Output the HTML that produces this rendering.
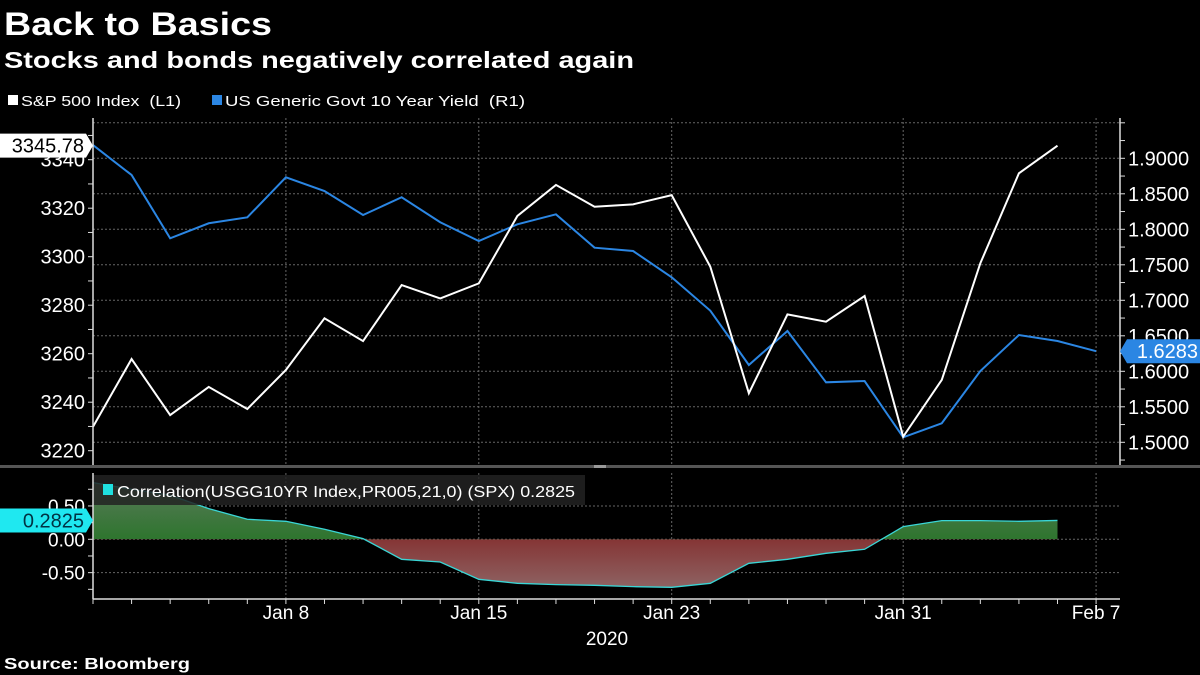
<!DOCTYPE html>
<html><head><meta charset="utf-8"><style>
html,body{margin:0;padding:0;background:#000;}
svg{display:block;font-family:"Liberation Sans",sans-serif;}
</style></head><body>
<svg id="c" width="1200" height="675" viewBox="0 0 1200 675">
<text x="4" y="35" fill="#fff" font-size="32" font-weight="bold" textLength="268" lengthAdjust="spacingAndGlyphs">Back to Basics</text>
<text x="4" y="68" fill="#fff" font-size="23" font-weight="bold" textLength="630" lengthAdjust="spacingAndGlyphs">Stocks and bonds negatively correlated again</text>
<g>
<rect x="8" y="95" width="10" height="10" fill="#fff"/>
<text x="21" y="106" fill="#fff" font-size="15" textLength="160" lengthAdjust="spacingAndGlyphs">S&amp;P 500 Index&#160;&#160;(L1)</text>
<rect x="212" y="95" width="10" height="10" fill="#2b86e3"/>
<text x="225" y="106" fill="#fff" font-size="15" textLength="300" lengthAdjust="spacingAndGlyphs">US Generic Govt 10 Year Yield&#160;&#160;(R1)</text>
</g>
<g id="grid"></g>
<g id="lower"></g>
<g id="lines"></g>
<g id="axes"></g>
<rect x="0" y="465" width="1200" height="3" fill="#555"/>
<rect x="594" y="465" width="12" height="3" fill="#999"/>
<text x="4" y="669" fill="#fff" font-size="16" font-weight="bold" textLength="186" lengthAdjust="spacingAndGlyphs">Source: Bloomberg</text>
</svg>
<script>
const dates=["Dec31","Jan2","Jan3","Jan6","Jan7","Jan8","Jan9","Jan10","Jan13","Jan14","Jan15","Jan16","Jan17","Jan21","Jan22","Jan23","Jan24","Jan27","Jan28","Jan29","Jan30","Jan31","Feb3","Feb4","Feb5","Feb6","Feb7"];
const spx=[3229.9,3257.8,3234.7,3246.3,3237.2,3253.3,3274.6,3265.2,3288.3,3282.8,3289.0,3316.8,3329.6,3320.6,3321.6,3325.4,3295.9,3243.7,3276.2,3273.2,3283.8,3225.8,3249.2,3297.3,3334.4,3345.78];
const yld=[1.9187,1.8765,1.7873,1.8085,1.8169,1.8732,1.8539,1.8201,1.8451,1.8099,1.7835,1.8070,1.8211,1.7741,1.7694,1.7324,1.6854,1.6089,1.6568,1.5845,1.5863,1.5070,1.5268,1.6004,1.6511,1.6427,1.6283];
const corr=[0.85,0.75,0.66,0.46,0.30,0.27,0.15,0.01,-0.30,-0.34,-0.60,-0.66,-0.68,-0.69,-0.71,-0.72,-0.66,-0.36,-0.30,-0.21,-0.15,0.19,0.28,0.28,0.27,0.2825];
const leftTicks=[3220,3240,3260,3280,3300,3320,3340];
const rightTicks=[1.50,1.55,1.60,1.65,1.70,1.75,1.80,1.85,1.90];
const corrTicks=[-0.5,0,0.5];
const xLabels=[["Jan 8",5],["Jan 15",10],["Jan 23",15],["Jan 31",21],["Feb 7",26]];

const NS="http://www.w3.org/2000/svg";
const X=i=>93+i*38.58;
const YL=v=>450.7-(v-3220)*2.425;
const YR=r=>442.3-(r-1.5)*710;
const YC=c=>539.3-c*66.7;
function mk(p,t,a){const e=document.createElementNS(NS,t);for(const k in a)e.setAttribute(k,a[k]);p.appendChild(e);return e;}
const grid=document.getElementById('grid'),axes=document.getElementById('axes'),lines=document.getElementById('lines'),lower=document.getElementById('lower');

for(let r=1.5;r<=1.951;r+=0.05){const g=mk(grid,'line',{x1:93,x2:1120,y1:YR(r),y2:YR(r),stroke:'#666','stroke-dasharray':'2,2','stroke-width':1});

}
corrTicks.forEach(c=>{const g=mk(grid,'line',{x1:93,x2:1120,y1:YC(c),y2:YC(c),stroke:'#666','stroke-dasharray':'2,2'});

});
xLabels.forEach(([l,i])=>{[[118,465],[473,599]].forEach(([a,b])=>{const g=mk(grid,'line',{x1:X(i),x2:X(i),y1:a,y2:b,stroke:'#666','stroke-dasharray':'2,2'});

});});

const defs=mk(document.getElementById('c'),'defs',{});
const gg=mk(defs,'linearGradient',{id:'gg',x1:0,y1:0,x2:0,y2:1});
mk(gg,'stop',{offset:'0','stop-color':'#5a7a5a'});mk(gg,'stop',{offset:'1','stop-color':'#087008'});
const gr=mk(defs,'linearGradient',{id:'gr',x1:0,y1:0,x2:0,y2:1});
mk(gr,'stop',{offset:'0','stop-color':'#7a0000'});mk(gr,'stop',{offset:'1','stop-color':'#8e6262'});
const cpu=mk(defs,'clipPath',{id:'cpUp'});mk(cpu,'rect',{x:0,y:0,width:1200,height:YC(0)});
const cpd=mk(defs,'clipPath',{id:'cpDn'});mk(cpd,'rect',{x:0,y:YC(0),width:1200,height:200});
let area='M'+X(0)+','+YC(0);corr.forEach((c,i)=>area+=' L'+X(i)+','+YC(c));area+=' L'+X(corr.length-1)+','+YC(0)+'Z';
const aUp=mk(lower,'path',{d:area,fill:'url(#gg)','clip-path':'url(#cpUp)'});


const aDn=mk(lower,'path',{d:area,fill:'url(#gr)','clip-path':'url(#cpDn)'});


const cl=mk(lower,'polyline',{points:corr.map((c,i)=>X(i)+','+YC(c)).join(' '),fill:'none',stroke:'#3ad6d6','stroke-width':1.3});


const lb=mk(lower,'rect',{x:93,y:475,width:492,height:30,fill:'#222','fill-opacity':0.85});


const ls=mk(lower,'rect',{x:103,y:484,width:10,height:11,fill:'#1fe0e0'});


const lt=mk(lower,'text',{x:117,y:497,fill:'#fff','font-size':16,textLength:458,lengthAdjust:'spacingAndGlyphs'});lt.textContent='Correlation(USGG10YR Index,PR005,21,0) (SPX) 0.2825';



const ly=mk(lines,'polyline',{points:yld.map((r,i)=>X(i)+','+YR(r)).join(' '),fill:'none',stroke:'#2b86e3','stroke-width':2});


const lsx=mk(lines,'polyline',{points:spx.map((v,i)=>X(i)+','+YL(v)).join(' '),fill:'none',stroke:'#fff','stroke-width':2});



[[93,118,465],[1120,118,465],[93,473,599]].forEach(([x,a,b])=>{const l=mk(axes,'line',{x1:x,x2:x,y1:a,y2:b,stroke:'#ddd','stroke-width':1.5});

});
const xb=mk(axes,'line',{x1:93,x2:1120,y1:599,y2:599,stroke:'#ddd','stroke-width':1.5});


for(let v=3220;v<=3350;v+=10){const t=mk(axes,'line',{x1:88,x2:93,y1:YL(v),y2:YL(v),stroke:'#ddd'});

}
leftTicks.forEach(v=>{const t=mk(axes,'text',{x:85,y:YL(v)+7,fill:'#fff','font-size':20,'text-anchor':'end'});t.textContent=v;

});
for(let r=1.475;r<=1.96;r+=0.025){const t=mk(axes,'line',{x1:1120,x2:1125,y1:YR(r),y2:YR(r),stroke:'#ddd'});

}
rightTicks.forEach(r=>{const t=mk(axes,'text',{x:1128,y:YR(r)+7,fill:'#fff','font-size':20});t.textContent=r.toFixed(4);

});
for(let c=-0.75;c<=0.8;c+=0.25){const t=mk(axes,'line',{x1:88,x2:93,y1:YC(c),y2:YC(c),stroke:'#ddd'});

}
corrTicks.forEach(c=>{const t=mk(axes,'text',{x:85,y:YC(c)+7,fill:'#fff','font-size':19,'text-anchor':'end'});t.textContent=c.toFixed(2);

});
dates.forEach((d,i)=>{const t=mk(axes,'line',{x1:X(i),x2:X(i),y1:599,y2:604,stroke:'#ddd'});

});
xLabels.forEach(([l,i])=>{const t=mk(axes,'text',{x:X(i),y:619,fill:'#fff','font-size':19,'text-anchor':'middle'});t.textContent=l;

});
const yr=mk(axes,'text',{x:607,y:645,fill:'#fff','font-size':19,'text-anchor':'middle'});yr.textContent='2020';



function tag(x,y,w,left,bg,fg,txt,name){const g=mk(axes,'g',{});


const d=left?`M${x},${y-12} L${x+w},${y-12} L${x+w+7},${y} L${x+w},${y+12} L${x},${y+12}Z`:`M${x},${y} L${x+7},${y-12} L${x+w},${y-12} L${x+w},${y+12} L${x+7},${y+12}Z`;
mk(g,'path',{d:d,fill:bg});const t=mk(g,'text',{x:x+w-2,y:y+7,fill:fg,'font-size':20,'text-anchor':'end'});t.textContent=txt;}
tag(0,YL(spx[spx.length-1]),86,true,'#fff','#000',spx[spx.length-1].toFixed(2),'spx-last-value-tag');
tag(1120,YR(yld[yld.length-1]),80,false,'#2b86e3','#fff',yld[yld.length-1].toFixed(4),'yield-last-value-tag');
tag(0,YC(corr[corr.length-1]),86,true,'#1fe8f0','#034',corr[corr.length-1].toFixed(4),'corr-last-value-tag');
</script>
</body></html>
